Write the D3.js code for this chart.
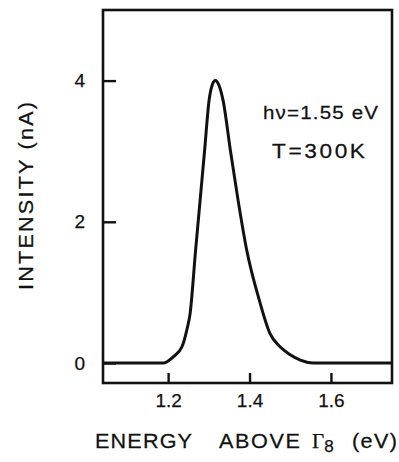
<!DOCTYPE html>
<html>
<head>
<meta charset="utf-8">
<script src="https://cdn.jsdelivr.net/npm/d3@7"></script>
<style>
  body { margin: 0; background: #fff; }
  svg text { font-family: "Liberation Sans", Arial, sans-serif; fill: #111; stroke: #111; stroke-width: 0.25px; }
</style>
</head>
<body>
<div id="chart"></div>
<script>
// data
const energy    = [1.04, 1.15, 1.188, 1.213, 1.234, 1.246, 1.254, 1.2675, 1.2785, 1.2896, 1.3006, 1.308, 1.316, 1.325, 1.335, 1.353, 1.372, 1.393, 1.424, 1.450, 1.475, 1.499, 1.525, 1.556, 1.75];
const intensity = [0,    0,    0,     0.09,  0.23,  0.47,  0.70,  1.60,   2.30,   3.01,   3.72,   3.93,  4.00,  3.93,  3.72,  3.01,  2.30,  1.60,  0.89,  0.42,  0.23,  0.12,  0.04,  0,     0];
const xTicks = [1.2, 1.4, 1.6];
const yTicks = [0, 2, 4];

const W = 399, H = 462;
const frame = { left: 103, right: 392, top: 10, bottom: 383 };

const svg = d3.select("#chart").append("svg")
  .attr("width", W)
  .attr("height", H);

const x = d3.scaleLinear().domain([1.04, 1.75]).range([frame.left, frame.right]);
const y = d3.scaleLinear().domain([0, 5]).range([363, frame.top]);

// frame box
svg.append("rect")
  .attr("x", frame.left)
  .attr("y", frame.top)
  .attr("width", frame.right - frame.left)
  .attr("height", frame.bottom - frame.top)
  .attr("fill", "none")
  .attr("stroke", "#111")
  .attr("stroke-width", 2.6);

// y axis, ticks pointing inward
const yAxis = svg.append("g")
  .attr("transform", `translate(${frame.left},0)`)
  .call(d3.axisLeft(y).tickValues(yTicks).tickSize(-13).tickPadding(18).tickFormat(d3.format("d")));
yAxis.select(".domain").remove();
yAxis.selectAll("line").attr("stroke", "#111").attr("stroke-width", 2.4);
yAxis.selectAll("text")
  .style("font-size", "19px")
  .attr("font-family", null);

// x axis on the bottom edge, ticks pointing up
const xAxis = svg.append("g")
  .attr("transform", `translate(0,${frame.bottom})`)
  .call(d3.axisBottom(x).tickValues(xTicks).tickSize(-10).tickPadding(11).tickFormat(d3.format(".1f")));
xAxis.select(".domain").remove();
xAxis.selectAll("line").attr("stroke", "#111").attr("stroke-width", 2.4);
xAxis.selectAll("text")
  .style("font-size", "19px")
  .attr("font-family", null);

// spectrum curve
const points = energy.map((e, i) => [e, intensity[i]]);
svg.append("path")
  .datum(points)
  .attr("fill", "none")
  .attr("stroke", "#111")
  .attr("stroke-width", 3)
  .attr("stroke-linejoin", "round")
  .attr("d", d3.line()
    .x(d => x(d[0]))
    .y(d => y(d[1]))
    .curve(d3.curveMonotoneX));

// wide-ish lettering: stretch horizontally, keep the measured widths
const sx = 1.08;
function label(parent, px, py, len, size, str) {
  return parent.append("text")
    .attr("transform", `translate(${px},${py}) scale(${sx},1)`)
    .attr("textLength", len / sx).attr("lengthAdjust", "spacing")
    .style("font-size", size + "px")
    .text(str);
}

// annotations
label(svg, 263, 119, 115, 19, "hν=1.55 eV");
label(svg, 272, 158, 93, 21, "T=300K");

// y title
svg.append("text")
  .attr("transform", `translate(33,196) rotate(-90) scale(${sx},1)`)
  .attr("text-anchor", "middle")
  .attr("textLength", 188 / sx).attr("lengthAdjust", "spacing")
  .style("font-size", "20px")
  .text("INTENSITY (nA)");

// x title
const xt = svg.append("g");
label(xt, 95, 448, 97, 20, "ENERGY");
label(xt, 219, 448, 81, 20, "ABOVE");
const g8 = xt.append("text").attr("x", 312).attr("y", 448);
g8.append("tspan").style("font-family", "'Liberation Serif', serif").style("font-size", "21px").text("Γ");
g8.append("tspan").attr("dy", 4).style("font-size", "17px").text("8");
label(xt, 352, 448, 45, 20, "(eV)");
</script>
</body>
</html>
